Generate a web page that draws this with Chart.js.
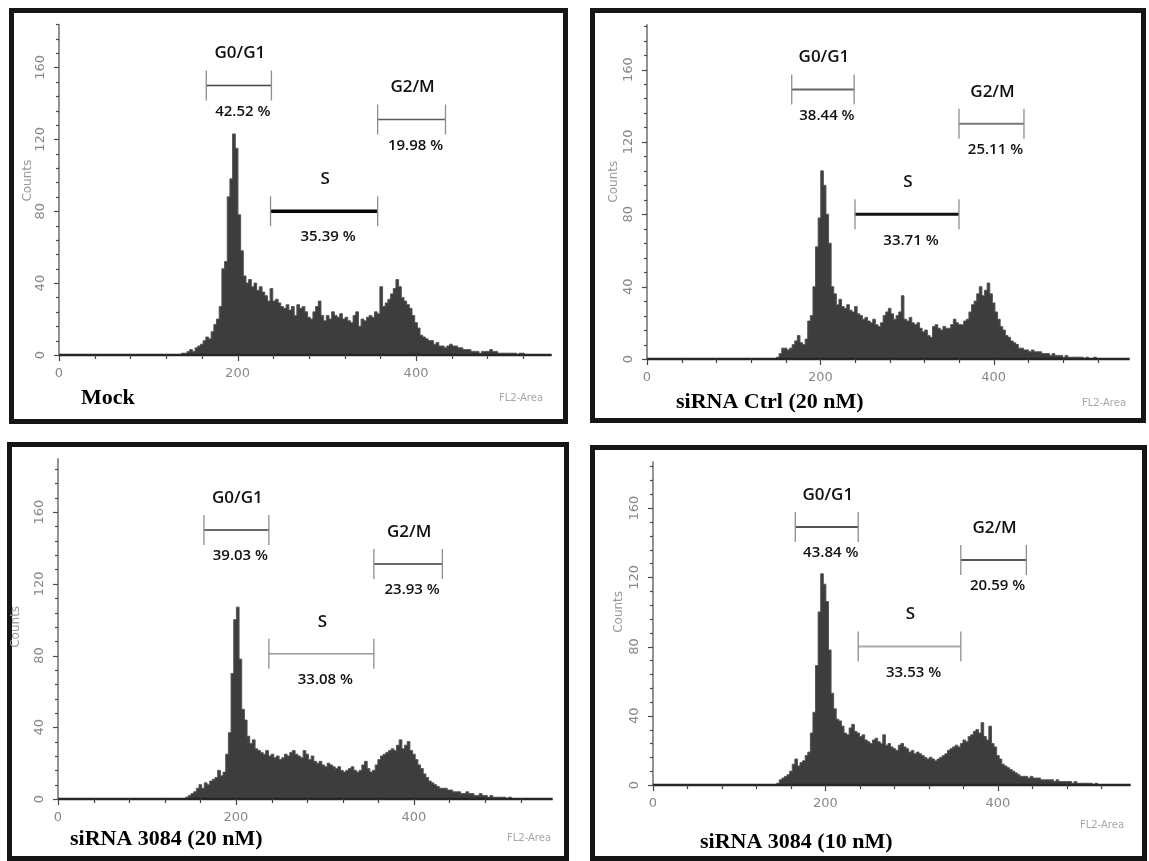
<!DOCTYPE html>
<html>
<head>
<meta charset="utf-8">
<script src="https://cdn.jsdelivr.net/npm/chart.js@4.4.1/dist/chart.umd.min.js"></script>
<style>
  body { margin: 0; background: #fff; width: 1149px; height: 861px; overflow: hidden; position: relative; }
  .frame { position: absolute; box-sizing: border-box; border: 5px solid #161616; }
  canvas { position: absolute; }
</style>
</head>
<body>
<script>
// histogram bins (FL2-Area channel), 3 channels per bin starting at 130
const BIN_START = 130, BIN_W = 3;

const mockCounts = [
  0,0,0,1,1,2,3,2,4,5,
  6,8,10,9,13,17,20,27,48,52,
  88,98,123,115,78,58,44,40,42,38,
  40,36,38,35,33,30,37,30,31,29,
  27,26,28,25,27,22,28,26,27,24,
  21,20,24,27,30,22,19,22,20,24,
  22,21,23,20,21,19,18,22,24,16,
  20,19,21,22,21,24,23,38,27,29,
  31,34,37,42,38,32,30,28,26,22,
  18,15,11,10,9,8,8,6,7,5,
  5,4,5,6,5,5,4,4,3,3,
  3,2,2,2,1,2,2,2,3,2,
  2,1,1,1,1,1,1,1,0,1,
  1,0,0,0,0,0
];
const ctrlCounts = [
  0,0,0,0,0,0,0,1,3,6,
  6,5,6,8,10,13,9,8,11,21,
  24,40,62,78,104,96,80,64,40,36,
  30,33,29,28,30,27,26,29,25,24,
  22,23,21,20,22,19,18,20,24,26,
  28,25,22,24,26,35,22,21,23,20,
  19,20,17,15,16,13,12,18,19,17,
  16,18,17,17,19,22,20,19,19,21,
  22,26,30,32,36,40,35,38,42,36,
  31,26,22,18,16,13,12,10,9,8,
  6,6,5,5,4,5,4,4,4,3,
  3,3,2,3,2,2,2,1,2,1,
  1,1,1,1,1,0,1,0,0,1,
  0,0,0,0,0,0
];
const si20Counts = [
  0,0,0,0,0,1,2,3,4,6,
  8,6,9,8,10,11,12,16,13,15,
  25,37,70,100,107,78,50,44,35,31,
  33,28,27,26,25,27,24,25,23,24,
  22,23,25,24,26,27,25,24,23,27,
  25,22,24,21,20,21,19,18,20,19,
  18,17,18,16,15,16,17,18,16,15,
  16,19,21,17,15,16,19,22,24,25,
  26,27,28,27,30,33,28,30,32,27,
  25,22,19,17,14,12,10,9,8,7,
  6,6,6,5,5,4,4,4,3,3,
  4,3,3,2,2,3,2,2,1,2,
  1,1,1,1,1,0,1,0,0,0,
  0,0,0,0,0,0
];
const si10Counts = [
  0,0,0,0,0,1,3,4,5,6,
  8,12,15,11,13,14,17,19,30,42,
  69,100,122,116,106,78,53,44,38,37,
  34,30,29,33,35,31,30,28,29,26,
  25,24,26,27,25,24,29,23,24,22,
  21,20,23,24,22,21,19,20,18,19,
  18,17,16,15,16,15,14,15,16,17,
  18,20,21,22,23,22,24,26,25,28,
  29,31,32,30,36,28,26,34,24,22,
  17,15,12,11,10,9,8,7,6,5,
  5,5,4,5,4,4,4,3,3,3,
  3,3,2,3,2,2,2,2,2,1,
  2,1,1,1,1,1,1,0,1,0,
  0,0,0,0,0,0
];

// gates: [from channel, to channel, marker height in counts]
const phaseNames = ['G0/G1', 'S', 'G2/M'];
const mockGates = [[165, 238, 150], [237, 357, 80], [357, 433, 131]];
const ctrlGates = [[167, 239, 149], [240, 360, 80], [360, 435, 130]];
const si20Gates = [[164, 237, 150], [237, 355, 81], [355, 432, 131]];
const si10Gates = [[165, 238, 149], [238, 357, 80], [357, 433, 130]];
const mockPct = ['42.52 %', '35.39 %', '19.98 %'];
const ctrlPct = ['38.44 %', '33.71 %', '25.11 %'];
const si20Pct = ['39.03 %', '33.08 %', '23.93 %'];
const si10Pct = ['43.84 %', '33.53 %', '20.59 %'];

const xTickLabels = [0, 200, 400];
const yTickLabels = [0, 40, 80, 120, 160];

const panels = [
  { title: 'Mock', counts: mockCounts, gates: mockGates, pct: mockPct,
    frame: [9, 8, 559, 416], area: [59, 13, 561, 355], xMax: 552, yMax: 184,
    titleAt: [72, 390], flAt: [512, 390], countsDx: 31, countsV: 97,
    gateStyle: [['#454545', 1.5], ['#050505', 3.5], ['#5a5a5a', 1.5]] },
  { title: 'siRNA Ctrl (20 nM)', counts: ctrlCounts, gates: ctrlGates, pct: ctrlPct,
    frame: [590, 8, 556, 415], area: [647, 10, 1143, 359], xMax: 557, yMax: 185,
    titleAt: [86, 394], flAt: [514, 395], countsDx: 33, countsV: 98,
    gateStyle: [['#666', 2], ['#111', 3], ['#777', 2]] },
  { title: 'siRNA 3084 (20 nM)', counts: si20Counts, gates: si20Gates, pct: si20Pct,
    frame: [7, 442, 562, 419], area: [58, 446, 561, 799], xMax: 556, yMax: 190,
    titleAt: [63, 397], flAt: [522, 396], countsDx: 42, countsV: 96,
    gateStyle: [['#383838', 1.5], ['#9a9a9a', 1.5], ['#383838', 1.5]] },
  { title: 'siRNA 3084 (10 nM)', counts: si10Counts, gates: si10Gates, pct: si10Pct,
    frame: [590, 445, 557, 416], area: [653, 450, 1143, 785], xMax: 554, yMax: 187,
    titleAt: [110, 397], flAt: [512, 380], countsDx: 34, countsV: 100,
    gateStyle: [['#555', 2], ['#aaa', 2], ['#555', 2]] }
];

function seg(ctx, x1, y1, x2, y2) {
  ctx.beginPath(); ctx.moveTo(x1, y1); ctx.lineTo(x2, y2); ctx.stroke();
}

function decor(p) {
  return {
    id: 'decor',
    afterDatasetsDraw(chart) {
      const ctx = chart.ctx, a = chart.chartArea, x = chart.scales.x, y = chart.scales.y;
      ctx.save();
      // y axis + minor ticks
      ctx.strokeStyle = '#4a4a4a'; ctx.lineWidth = 1.2;
      seg(ctx, a.left, a.top, a.left, a.bottom);
      for (let v = 0; v <= p.yMax; v += 8) {
        const py = Math.round(y.getPixelForValue(v)) + 0.5;
        seg(ctx, a.left - (v % 40 === 0 ? 5 : 3), py, a.left, py);
      }
      ctx.fillStyle = '#888';
      ctx.font = '13px "DejaVu Sans"';
      ctx.textAlign = 'center'; ctx.textBaseline = 'middle';
      yTickLabels.forEach(v => {
        ctx.save();
        ctx.translate(a.left - 18, y.getPixelForValue(v));
        ctx.rotate(-Math.PI / 2);
        ctx.fillText(String(v), 0, 0);
        ctx.restore();
      });
      ctx.save();
      ctx.font = '12px "DejaVu Sans"';
      ctx.fillStyle = '#999';
      ctx.translate(a.left - p.countsDx, y.getPixelForValue(p.countsV));
      ctx.rotate(-Math.PI / 2);
      ctx.fillText('Counts', 0, 0);
      ctx.restore();

      // x axis + ticks
      ctx.strokeStyle = '#262626'; ctx.lineWidth = 2.5;
      seg(ctx, a.left, a.bottom, a.right, a.bottom);
      ctx.lineWidth = 1.2; ctx.strokeStyle = '#444';
      for (let v = 0; v <= p.xMax; v += 40) {
        const px = Math.round(x.getPixelForValue(v)) + 0.5;
        seg(ctx, px, a.bottom, px, a.bottom + (v % 200 === 0 ? 6 : 4));
      }
      ctx.fillStyle = '#888';
      ctx.font = '13px "DejaVu Sans"';
      xTickLabels.forEach(v => ctx.fillText(String(v), x.getPixelForValue(v), a.bottom + 19));

      ctx.font = '10px "DejaVu Sans"';
      ctx.fillStyle = '#a8a8a8';
      ctx.fillText('FL2-Area', p.flAt[0], p.flAt[1]);

      // gate labels
      ctx.fillStyle = '#111';
      p.gates.forEach((g, i) => {
        const cx = (x.getPixelForValue(g[0]) + x.getPixelForValue(g[1])) / 2;
        const py = y.getPixelForValue(g[2]);
        ctx.font = '600 17px "Open Sans"';
        ctx.fillText(phaseNames[i], cx + 1, py - 32);
        ctx.font = '600 15px "Open Sans"';
        ctx.fillText(p.pct[i], cx + 4, py + 26);
      });

      // panel title
      ctx.fillStyle = '#000';
      ctx.font = 'bold 22px "Liberation Serif"';
      ctx.textAlign = 'left';
      ctx.fillText(p.title, p.titleAt[0], p.titleAt[1]);
      ctx.restore();
    }
  };
}

panels.forEach(p => {
  const [fl, ft, fw, fh] = p.frame;
  const frame = document.createElement('div');
  frame.className = 'frame';
  Object.assign(frame.style, { left: fl + 'px', top: ft + 'px', width: fw + 'px', height: fh + 'px' });
  document.body.appendChild(frame);

  const cv = document.createElement('canvas');
  cv.width = fw; cv.height = fh;
  Object.assign(cv.style, { left: fl + 'px', top: ft + 'px', width: fw + 'px', height: fh + 'px' });
  document.body.appendChild(cv);

  const [al, at, ar, ab] = p.area;
  const gateSets = p.gates.map((g, i) => ({
    data: [{ x: g[0], y: g[2] }, { x: g[1], y: g[2] }],
    borderColor: p.gateStyle[i][0],
    borderWidth: p.gateStyle[i][1],
    fill: false,
    pointStyle: 'line',
    rotation: 90,
    pointRadius: 15,
    pointBorderColor: '#8e8e8e',
    pointBorderWidth: 1.3
  }));

  new Chart(cv, {
    type: 'line',
    data: {
      datasets: [
        ...gateSets,
        {
          data: p.counts.map((c, i) => ({ x: BIN_START + i * BIN_W, y: c })),
          stepped: 'middle',
          fill: 'origin',
          backgroundColor: '#3d3d3d',
          borderColor: '#555',
          borderWidth: 1,
          pointRadius: 0
        }
      ]
    },
    options: {
      responsive: false,
      animation: false,
      events: [],
      layout: { padding: { left: al - fl, top: at - ft, right: fl + fw - ar, bottom: ft + fh - ab } },
      plugins: { legend: { display: false }, tooltip: { enabled: false } },
      scales: {
        x: { type: 'linear', min: 0, max: p.xMax, display: false },
        y: { min: 0, max: p.yMax, display: false }
      }
    },
    plugins: [decor(p)]
  });
});
</script>
</body>
</html>
